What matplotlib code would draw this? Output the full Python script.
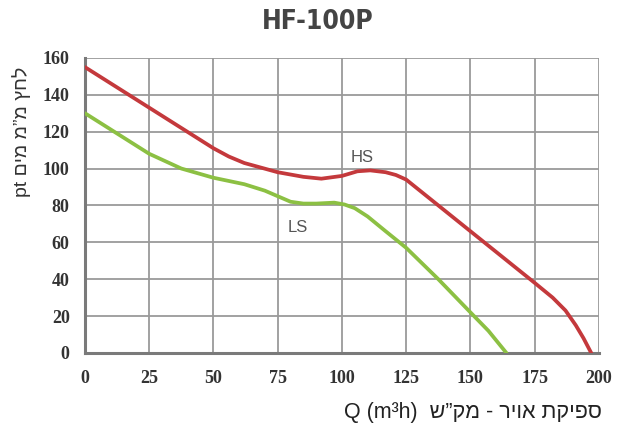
import matplotlib
matplotlib.use("Agg")
from matplotlib import pyplot as plt
from matplotlib import font_manager

# flow (m3/h) and static pressure readings for both speeds
hs_q = [0, 12.5, 25, 37.5, 50, 56, 62, 75, 85, 92, 100, 106, 111, 117, 121, 125,
        137.5, 150, 162.5, 175, 182, 187, 191, 194, 197]
hs_p = [155, 144, 133, 122, 111, 106.5, 103, 98, 95.5, 94.5, 96, 98.5, 99, 98, 96.5, 94,
        80, 66, 52, 38, 30, 23, 15, 8, 0]

ls_q = [0, 12.5, 25, 37.5, 50, 62, 70, 75, 80, 85, 90, 97, 101, 105, 110, 117, 125,
        137.5, 150, 157, 164]
ls_p = [130, 119, 108, 100, 95, 91.5, 88, 85, 82, 81, 81, 81.5, 80.5, 78.5, 74, 66, 57,
        40, 22, 12, 0]

x_ticks = [0, 25, 50, 75, 100, 125, 150, 175, 200]
y_ticks = [0, 20, 40, 60, 80, 100, 120, 140, 160]

# hebrew is written in visual order since matplotlib has no bidi support
y_label = "pt " + "לחץ מ”מ מים"[::-1]
x_label = "Q (m³h)  " + "ספיקת אויר - מק”ש"[::-1]

# condensed bold face for the title, if one is on the system
title_font = font_manager.FontProperties(family="DejaVu Sans", weight="bold",
                                         stretch="condensed", size=19)
for path in font_manager.findSystemFonts():
    name = path.rsplit("/", 1)[-1]
    if name in ("LiberationSansNarrow-Bold.ttf", "DejaVuSansCondensed-Bold.ttf"):
        title_font = font_manager.FontProperties(fname=path, size=19)
        if name.startswith("Liberation"):
            break

fig = plt.figure(figsize=(6.2, 4.32), dpi=100)
ax = fig.add_axes([0.137, 0.183, 0.829, 0.683])

ax.plot(hs_q, hs_p, color="#c4393c", lw=2.7, solid_capstyle="round", zorder=3)
ax.plot(ls_q, ls_p, color="#8cc043", lw=2.7, solid_capstyle="round", zorder=3)

ax.text(108, 106, "HS", fontsize=12, color="#555555", ha="center", va="center",
        family="Liberation Sans")
ax.text(83, 68, "LS", fontsize=12, color="#555555", ha="center", va="center",
        family="Liberation Sans")

ax.set_xlim(0, 200)
ax.set_ylim(0, 160)
ax.set_xticks(x_ticks)
ax.set_yticks(y_ticks)
ax.grid(True, color="#9a9a9a", lw=1.3)
ax.set_axisbelow(True)
for side in ["top", "right"]:
    ax.spines[side].set_visible(False)
for side in ["left", "bottom"]:
    ax.spines[side].set_color("#7a7a7a")
    ax.spines[side].set_linewidth(2.2)
ax.tick_params(length=0, labelcolor="#333333")
ax.tick_params(axis="x", pad=12)
ax.tick_params(axis="y", pad=11)
for lab in ax.get_xticklabels() + ax.get_yticklabels():
    lab.set_family("Liberation Serif")
    lab.set_fontsize(13)
    lab.set_weight("bold")

fig.text(0.035, 0.694, y_label, rotation=90, ha="center", va="center",
         fontsize=14, color="#333333", family=["Liberation Sans", "DejaVu Sans"])
fig.text(0.763, 0.044, x_label, ha="center", va="center",
         fontsize=15.5, color="#222222", family=["Liberation Sans", "DejaVu Sans"])
fig.text(0.513, 0.948, "HF-100P", ha="center", va="center",
         fontproperties=title_font, color="#444444")

fig.savefig("out.png", dpi=100)
